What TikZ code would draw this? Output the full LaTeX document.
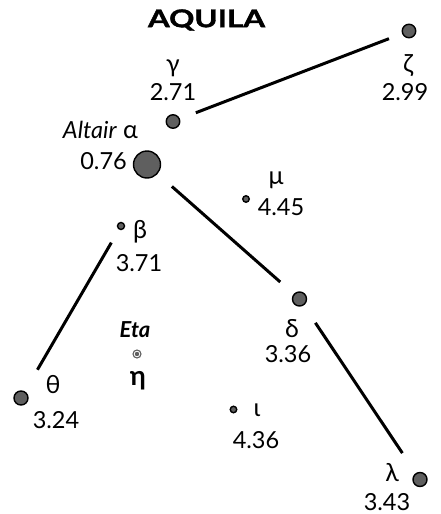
\documentclass[tikz,border=0pt]{standalone}
\usepackage{fontspec}
\setmainfont{Lato}
\newfontfamily\titlefont{Lato}[BoldFeatures={FakeBold=1.3}]
\definecolor{stargray}{RGB}{95,95,95}
\begin{document}
\begin{tikzpicture}[x=1pt,y=-1pt,
  star/.style={circle,draw=black,line width=1.4pt,fill=stargray,inner sep=0pt,minimum size=#1},
  lbl/.style={inner sep=0pt,font=\fontsize{23.5}{23.5}\selectfont},
  glbl/.style={inner sep=0pt,font=\fontsize{25}{25}\selectfont},
  link/.style={line width=3pt}]
\useasboundingbox (0,0) rectangle (440,514);
% title
\node[inner sep=0pt,font=\fontsize{24.5}{24.5}\selectfont\titlefont\bfseries] (title) at (206.5,20) {\scalebox{1.28}[1]{AQUILA}};
% stars
\node[star=13.5pt] (zeta) at (409,31) {};
\node[star=13.5pt] (gamma) at (173,121.5) {};
\node[star=27pt] (alpha) at (147,164.5) {};
\node[star=6.5pt] (mu) at (246,199) {};
\node[star=7pt] (beta) at (121,226) {};
\node[star=14pt] (delta) at (299.5,299) {};
\node[star=14pt] (theta) at (21,398) {};
\node[star=6.5pt] (iota) at (233.5,409.5) {};
\node[star=14pt] (lambda) at (420,479.5) {};
\node[circle,draw=stargray,line width=1.1pt,fill=white,inner sep=0pt,minimum size=8pt] (eta) at (137,354) {};
\fill[stargray] (eta.center) circle (2.2pt);
% labels
\node[glbl] (zetaL) at (408,66) {ζ};
\node[lbl] (zetaM) at (405,92) {2.99};
\node[glbl] (gammaL) at (173,68) {γ};
\node[lbl] (gammaM) at (173,92) {2.71};
\node[lbl,anchor=base east] (alphaL) at (138,138) {\textit{Altair} {\fontsize{25}{25}\selectfont α}};
\node[lbl,anchor=east] (alphaM) at (127,161) {0.76};
\node[glbl] (muL) at (276,180) {μ};
\node[lbl] (muM) at (281,207) {4.45};
\node[glbl] (betaL) at (140,232) {β};
\node[lbl] (betaM) at (139,263) {3.71};
\node[glbl] (deltaL) at (292,329) {δ};
\node[lbl] (deltaM) at (288,354) {3.36};
\node[lbl,font=\fontsize{22}{22}\selectfont\bfseries\itshape] (etaN) at (135,330) {Eta};
\node[lbl,font=\fontsize{27}{27}\selectfont\bfseries] (etaL) at (138,381) {η};
\node[glbl] (thetaL) at (53,385) {θ};
\node[lbl] (thetaM) at (56,420) {3.24};
\node[glbl] (iotaL) at (257,410) {ι};
\node[lbl] (iotaM) at (256,440) {4.36};
\node[glbl] (lambdaL) at (392,473) {λ};
\node[lbl] (lambdaM) at (387,502) {3.43};
% lines
\draw[link,shorten <=17pt,shorten >=14pt] (gamma) -- (zeta);
\draw[link,shorten <=19pt,shorten >=18pt] (alpha) -- (delta);
\draw[link,shorten <=15pt,shorten >=25pt] (beta) -- (theta);
\draw[link,shorten <=21pt,shorten >=24pt] (delta) -- (lambda);
\end{tikzpicture}
\end{document}
